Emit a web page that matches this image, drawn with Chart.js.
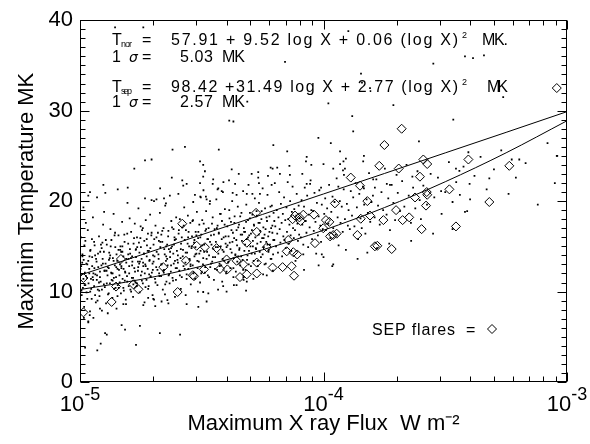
<!DOCTYPE html>
<html><head><meta charset="utf-8">
<script src="https://cdn.jsdelivr.net/npm/chart.js@4.4.1/dist/chart.umd.min.js"></script>
<style>html,body{margin:0;padding:0;background:#fff}</style>
</head><body>
<canvas id="c" width="590" height="444"></canvas>
<script>
// ---------- data (x values are log10 of flux in W m^-2, y values are temperature in MK) ----------
const xTickExponents = [-5, -4, -3];
const yTickValues = [0, 10, 20, 30, 40];
const fitLogFlux = [-5, -4.75, -4.5, -4.25, -4, -3.75, -3.5, -3.25, -3];
const fitNormal = [11.81, 14.04, 16.29, 18.53, 20.79, 23.05, 25.33, 27.60, 29.89];
const fitSep = [10.22, 11.34, 12.81, 14.62, 16.78, 19.28, 22.14, 25.34, 28.88];

const sepFlares = [[-3.042,32.5],[-3.679,28.0],[-3.750,26.2],[-3.590,24.6],[-3.574,24.1],[-3.771,23.9],[-3.691,23.6],[-3.405,24.6],[-3.237,23.9],[-3.888,22.6],[-3.850,21.7],[-3.604,22.7],[-3.483,21.3],[-3.576,21.0],[-3.574,20.7],[-3.624,20.4],[-3.820,20.0],[-3.953,19.75],[-3.319,19.9],[-3.579,19.5],[-4.083,18.5],[-4.099,18.2],[-4.039,18.5],[-3.990,17.9],[-3.847,18.05],[-3.809,18.4],[-3.754,17.9],[-3.702,19.0],[-3.675,17.9],[-3.648,18.2],[-4.117,18.4],[-4.001,17.0],[-3.976,17.7],[-3.960,16.25],[-3.946,16.4],[-4.035,15.35],[-3.861,16.25],[-3.597,16.9],[-3.456,17.2],[-3.789,15.0],[-3.779,15.06],[-3.720,14.7],[-4.124,14.35],[-4.108,14.1],[-4.131,12.8],[-4.121,11.75],[-4.315,15.4],[-4.145,15.7],[-4.233,14.9],[-4.151,14.45],[-4.329,13.0],[-4.274,13.2],[-4.274,12.0],[-4.209,12.65],[-4.168,12.7],[-4.315,11.9],[-4.343,11.6],[-3.973,16.1],[-4.277,18.7],[-4.127,18.0],[-4.094,17.8],[-4.274,16.6],[-4.521,15.06],[-4.487,14.9],[-4.439,14.8],[-4.832,13.6],[-4.565,13.4],[-4.658,12.7],[-4.491,12.45],[-4.425,12.5],[-4.395,12.45],[-4.398,13.55],[-4.357,13.4],[-4.537,11.8],[-4.532,11.7],[-4.986,11.5],[-4.852,10.55],[-4.781,10.8],[-4.760,10.25],[-4.599,9.95],[-4.870,8.85],[-4.986,7.7],[-4.580,17.5]];

const flareCoreLow = [
[-4.998,11.2],[-4.995,12.8],[-4.993,9.6],[-4.990,14.1],[-4.988,10.4],[-4.985,13.5],[-4.983,8.3],[-4.980,12.1],[-4.978,15.6],[-4.975,11.7],[-4.973,9.9],[-4.970,13.0],[-4.968,16.8],[-4.965,10.9],[-4.962,12.5],[-4.960,7.4],[-4.957,14.6],[-4.955,11.4],[-4.952,9.2],[-4.950,13.8],[-4.947,18.2],[-4.945,12.0],[-4.942,10.6],[-4.940,15.1],[-4.937,11.9],[-4.935,8.8],[-4.932,13.3],[-4.930,20.4],[-4.927,10.2],[-4.925,12.7],[-4.922,16.1],[-4.920,9.5],[-4.917,14.4],[-4.915,11.1],[-4.912,12.9],[-4.910,7.9],[-4.907,13.6],[-4.905,17.4],[-4.902,10.8],[-4.900,12.3],
[-4.996,16.0],[-4.986,19.3],[-4.976,17.6],[-4.966,6.6],[-4.958,10.0],[-4.948,11.6],[-4.938,14.0],[-4.928,9.0],[-4.918,12.2],[-4.908,15.4],[-4.991,13.2],[-4.981,10.7],[-4.971,11.5],[-4.961,13.9],[-4.951,15.8],[-4.941,12.6],[-4.931,11.3],[-4.921,10.1],[-4.911,14.8],[-4.901,18.8],
[-4.898,10.5],[-4.895,13.1],[-4.893,8.7],[-4.890,15.2],[-4.887,11.8],[-4.885,9.7],[-4.882,12.6],[-4.880,14.3],[-4.877,10.9],[-4.875,16.9],[-4.872,12.1],[-4.870,11.3],[-4.867,9.3],[-4.865,13.7],[-4.862,18.6],[-4.860,10.3],[-4.857,12.9],[-4.855,14.9],[-4.852,11.6],[-4.850,8.1],[-4.847,13.4],[-4.845,10.7],[-4.842,16.2],[-4.840,12.4],[-4.837,11.0],[-4.835,14.6],[-4.832,9.8],[-4.830,12.8],[-4.827,17.7],[-4.825,11.4],[-4.822,13.9],[-4.820,10.1],[-4.817,15.5],[-4.815,12.2],[-4.812,9.1],[-4.810,13.2],[-4.807,11.7],[-4.805,19.8],[-4.802,14.1],[-4.800,10.6],
[-4.896,20.9],[-4.886,7.6],[-4.876,14.0],[-4.866,12.0],[-4.856,16.5],[-4.846,9.5],[-4.836,13.0],[-4.826,15.0],[-4.816,11.2],[-4.806,16.4],[-4.891,12.3],[-4.881,13.5],[-4.871,15.7],[-4.861,11.5],[-4.851,12.7],[-4.841,10.4],[-4.831,14.4],[-4.821,12.5],[-4.811,8.6],[-4.801,13.6],
[-4.798,12.0],[-4.795,14.7],[-4.793,10.2],[-4.790,16.6],[-4.787,11.5],[-4.785,13.3],[-4.782,9.4],[-4.780,15.3],[-4.777,12.6],[-4.775,17.5],[-4.772,11.0],[-4.770,13.8],[-4.767,10.6],[-4.765,14.9],[-4.762,12.3],[-4.760,19.2],[-4.757,13.1],[-4.755,9.9],[-4.752,15.9],[-4.750,11.8],[-4.747,13.6],[-4.745,16.8],[-4.742,10.9],[-4.740,12.8],[-4.737,14.2],[-4.735,8.8],[-4.732,13.0],[-4.730,17.9],[-4.727,11.3],[-4.725,15.1],[-4.722,12.5],[-4.720,10.3],[-4.717,14.5],[-4.715,13.4],[-4.712,18.5],[-4.710,11.6],[-4.707,16.2],[-4.705,12.1],[-4.702,9.6],[-4.700,14.0],
[-4.796,18.1],[-4.786,12.9],[-4.776,11.2],[-4.766,16.0],[-4.756,14.3],[-4.746,12.2],[-4.736,15.6],[-4.726,13.9],[-4.716,11.9],[-4.706,20.1],[-4.791,13.7],[-4.781,10.8],[-4.771,14.6],[-4.761,12.7],[-4.751,17.2],[-4.741,13.2],[-4.731,10.5],[-4.721,16.4],[-4.711,14.8],[-4.701,12.4]];

const flareCoreMid = [
[-4.698,13.3],[-4.695,15.8],[-4.692,11.4],[-4.690,17.3],[-4.687,12.7],[-4.685,14.4],[-4.682,10.7],[-4.680,16.5],[-4.677,13.6],[-4.675,12.0],[-4.672,18.7],[-4.670,14.9],[-4.667,11.7],[-4.665,13.0],[-4.662,15.5],[-4.660,10.2],[-4.657,17.0],[-4.655,12.4],[-4.652,14.1],[-4.650,19.5],[-4.647,13.4],[-4.645,11.1],[-4.642,15.2],[-4.640,12.9],[-4.637,16.7],[-4.635,14.7],[-4.632,10.9],[-4.630,13.8],[-4.627,12.2],[-4.625,17.8],[-4.622,15.0],[-4.620,11.5],[-4.617,14.2],[-4.615,13.1],[-4.612,16.0],[-4.610,9.4],[-4.607,12.6],[-4.605,18.2],[-4.602,14.5],[-4.600,13.5],
[-4.696,9.1],[-4.686,20.2],[-4.676,15.6],[-4.666,16.3],[-4.656,12.1],[-4.646,13.9],[-4.636,11.8],[-4.626,14.8],[-4.616,16.9],[-4.606,11.3],[-4.691,8.4],[-4.671,21.4],[-4.651,9.7],[-4.631,20.6],[-4.611,15.7],
[-4.598,14.0],[-4.595,16.4],[-4.592,12.3],[-4.590,18.0],[-4.587,13.7],[-4.585,15.3],[-4.582,11.6],[-4.580,17.1],[-4.577,14.6],[-4.575,12.8],[-4.572,19.3],[-4.570,15.7],[-4.567,13.2],[-4.565,16.8],[-4.562,11.9],[-4.560,14.3],[-4.557,18.4],[-4.555,12.5],[-4.552,15.0],[-4.550,13.5],[-4.547,17.6],[-4.545,10.8],[-4.542,14.8],[-4.540,16.1],[-4.537,12.9],[-4.535,19.9],[-4.532,15.4],[-4.530,13.9],[-4.527,11.4],[-4.525,16.6],[-4.522,14.2],[-4.520,18.8],[-4.517,12.6],[-4.515,15.9],[-4.512,13.3],[-4.510,17.4],[-4.507,11.0],[-4.505,14.5],[-4.502,16.3],[-4.500,12.2],
[-4.596,20.8],[-4.586,10.3],[-4.576,21.7],[-4.566,9.6],[-4.556,16.0],[-4.546,13.0],[-4.536,17.9],[-4.526,14.9],[-4.516,10.0],[-4.506,20.5],
[-4.498,15.1],[-4.495,13.0],[-4.492,17.5],[-4.490,14.4],[-4.487,12.1],[-4.485,16.7],[-4.482,18.9],[-4.480,13.6],[-4.477,15.8],[-4.475,11.8],[-4.472,17.0],[-4.470,14.0],[-4.467,19.7],[-4.465,12.7],[-4.462,16.2],[-4.460,15.2],[-4.457,13.3],[-4.455,18.2],[-4.452,14.7],[-4.450,11.3],[-4.447,16.9],[-4.445,13.8],[-4.442,15.5],[-4.440,20.2],[-4.437,12.4],[-4.435,17.3],[-4.432,14.2],[-4.430,16.4],[-4.427,13.1],[-4.425,18.6],[-4.422,15.0],[-4.420,12.9],[-4.417,17.8],[-4.415,14.6],[-4.412,10.6],[-4.410,16.0],[-4.407,13.4],[-4.405,19.1],[-4.402,15.3],[-4.400,12.0],
[-4.493,21.2],[-4.473,9.8],[-4.453,22.4],[-4.433,10.2],[-4.413,21.0],
[-4.398,14.9],[-4.395,17.2],[-4.392,13.2],[-4.390,16.1],[-4.387,19.0],[-4.385,15.4],[-4.382,12.6],[-4.380,17.7],[-4.377,14.3],[-4.375,20.0],[-4.372,16.5],[-4.370,13.7],[-4.367,15.9],[-4.365,18.3],[-4.362,14.1],[-4.360,12.2],[-4.357,16.8],[-4.355,15.1],[-4.352,19.4],[-4.350,13.9],[-4.347,17.4],[-4.345,14.8],[-4.342,12.9],[-4.340,16.3],[-4.337,18.7],[-4.335,15.6],[-4.332,13.5],[-4.330,21.1],[-4.327,17.0],[-4.325,14.5],[-4.322,16.6],[-4.320,12.4],[-4.317,19.6],[-4.315,15.8],[-4.312,14.0],[-4.310,17.9],[-4.307,13.0],[-4.305,16.2],[-4.302,18.1],[-4.300,15.0],
[-4.388,22.3],[-4.368,10.7],[-4.348,23.0],[-4.328,11.3],[-4.308,21.8]];

const flareCoreDense = [
[-4.998,12.5],[-4.994,10.1],[-4.990,13.9],[-4.986,11.4],[-4.982,15.1],[-4.978,10.7],[-4.974,13.1],[-4.970,9.2],[-4.966,13.4],[-4.962,12.0],[-4.958,14.5],[-4.954,10.3],[-4.950,12.8],[-4.946,11.3],[-4.942,15.5],[-4.938,9.6],[-4.934,13.6],[-4.930,11.8],[-4.926,14.2],[-4.922,11.0],
[-4.918,11.6],[-4.914,15.2],[-4.910,10.2],[-4.906,13.1],[-4.902,14.4],[-4.898,12.3],[-4.894,15.7],[-4.890,10.9],[-4.886,12.7],[-4.882,9.8],[-4.878,13.7],[-4.874,15.0],[-4.870,12.0],[-4.866,11.2],[-4.862,13.4],[-4.858,16.2],[-4.854,10.4],[-4.850,14.1],[-4.846,12.5],[-4.842,14.6],
[-4.838,11.8],[-4.834,15.0],[-4.830,12.6],[-4.826,14.4],[-4.822,10.4],[-4.818,16.3],[-4.814,12.1],[-4.810,13.6],[-4.806,11.1],[-4.802,15.3],[-4.798,12.8],[-4.794,14.2],[-4.790,10.0],[-4.786,13.9],[-4.782,11.5],[-4.778,15.9],[-4.774,12.2],[-4.770,14.7],[-4.766,10.9],[-4.762,13.3],
[-4.758,15.4],[-4.754,13.3],[-4.750,14.9],[-4.746,11.2],[-4.742,17.0],[-4.738,14.2],[-4.734,12.0],[-4.730,12.8],[-4.726,15.8],[-4.722,14.5],[-4.718,10.6],[-4.714,13.5],[-4.710,11.7],[-4.706,16.5],[-4.702,13.1],[-4.698,15.2],[-4.694,13.9],[-4.690,11.0],[-4.686,16.0],[-4.682,12.4],
[-4.678,14.1],[-4.674,11.7],[-4.670,15.5],[-4.666,13.0],[-4.662,16.7],[-4.658,12.3],[-4.654,14.7],[-4.650,10.8],[-4.646,15.0],[-4.642,13.6],[-4.638,16.1],[-4.634,11.9],[-4.630,14.4],[-4.626,12.9],[-4.622,17.1],[-4.618,11.2],[-4.614,15.2],[-4.610,13.4],[-4.606,15.8],[-4.602,12.6],
[-4.598,13.2],[-4.594,16.8],[-4.590,11.8],[-4.586,14.7],[-4.582,16.0],[-4.578,13.9],[-4.574,17.3],[-4.570,12.5],[-4.566,14.3],[-4.562,11.4],[-4.558,15.3],[-4.554,16.6],[-4.550,13.6],[-4.546,12.8],[-4.542,15.0],[-4.538,17.8],[-4.534,12.0],[-4.530,15.7],[-4.526,14.1],[-4.522,16.2],
[-4.518,13.4],[-4.514,16.6],[-4.510,14.2],[-4.506,16.0],[-4.502,12.0],[-4.498,17.9],[-4.494,13.7],[-4.490,15.2],[-4.486,12.7],[-4.482,16.9],[-4.478,14.4],[-4.474,15.8],[-4.470,11.6],[-4.466,15.5],[-4.462,13.1],[-4.458,17.5],[-4.454,13.8],[-4.450,16.3],[-4.446,12.5],[-4.442,14.9],
[-4.438,17.0],[-4.434,14.9],[-4.430,16.5],[-4.426,12.8],[-4.422,18.6],[-4.418,15.8],[-4.414,13.6],[-4.410,14.4],[-4.406,17.4],[-4.402,16.1],[-4.398,12.2],[-4.394,15.1],[-4.390,13.3],[-4.386,18.1],[-4.382,14.7],[-4.378,16.8],[-4.374,15.5],[-4.370,12.6],[-4.366,17.6],[-4.362,14.0],
[-4.358,15.7],[-4.354,13.3],[-4.350,17.1],[-4.346,14.6],[-4.342,18.3],[-4.338,13.9],[-4.334,16.3],[-4.330,12.4],[-4.326,16.6],[-4.322,15.2],[-4.318,17.7],[-4.314,13.5],[-4.310,16.0],[-4.306,14.5],[-4.302,18.7],[-4.298,12.8],[-4.294,16.8],[-4.290,15.0],[-4.286,17.4],[-4.282,14.2],
[-4.278,14.8],[-4.274,18.4],[-4.270,13.4],[-4.266,16.3],[-4.262,17.6],[-4.258,15.5],[-4.254,18.9],[-4.250,14.1],[-4.246,15.9],[-4.242,13.0],[-4.238,16.9],[-4.234,18.2],[-4.230,15.2],[-4.226,14.4],[-4.222,16.6],[-4.218,19.4],[-4.214,13.6],[-4.210,17.3],[-4.206,15.7],[-4.202,17.8]];

const flareCoreHigh = [
[-4.298,16.4],[-4.295,14.2],[-4.292,18.5],[-4.290,15.6],[-4.287,13.4],[-4.285,17.3],[-4.282,20.3],[-4.280,16.0],[-4.277,14.7],[-4.275,18.9],[-4.272,15.3],[-4.270,12.8],[-4.267,17.6],[-4.265,19.8],[-4.262,14.4],[-4.260,16.7],[-4.257,13.8],[-4.255,18.0],[-4.252,15.9],[-4.250,21.4],[-4.247,17.1],[-4.245,14.9],[-4.242,16.3],[-4.240,19.2],[-4.237,13.1],[-4.235,15.5],[-4.232,17.8],[-4.230,20.7],[-4.227,16.1],[-4.225,14.6],[-4.222,18.3],[-4.220,15.2],[-4.217,13.6],[-4.215,17.0],[-4.212,19.5],[-4.210,16.5],[-4.207,14.1],[-4.205,18.7],[-4.202,15.7],[-4.200,22.0],
[-4.288,11.4],[-4.268,23.2],[-4.248,11.9],[-4.228,22.8],[-4.208,12.3],
[-4.198,17.2],[-4.195,15.0],[-4.192,19.0],[-4.190,16.4],[-4.187,14.3],[-4.185,18.2],[-4.182,21.0],[-4.180,16.9],[-4.177,15.4],[-4.175,19.7],[-4.172,17.6],[-4.170,13.9],[-4.167,18.6],[-4.165,16.1],[-4.162,20.4],[-4.160,15.7],[-4.157,17.9],[-4.155,14.8],[-4.152,19.3],[-4.150,16.6],[-4.147,22.1],[-4.145,18.0],[-4.142,15.3],[-4.140,17.4],[-4.137,20.0],[-4.135,16.2],[-4.132,14.5],[-4.130,18.8],[-4.127,21.6],[-4.125,17.0],[-4.122,15.9],[-4.120,19.1],[-4.117,16.8],[-4.115,13.4],[-4.112,18.4],[-4.110,20.8],[-4.107,17.5],[-4.105,15.6],[-4.102,19.5],[-4.100,16.3],
[-4.097,18.1],[-4.093,16.0],[-4.090,20.1],[-4.087,17.4],[-4.083,15.2],[-4.080,19.4],[-4.077,21.5],[-4.073,17.8],[-4.070,16.5],[-4.067,20.6],[-4.063,14.9],[-4.060,18.5],[-4.057,17.1],[-4.053,22.3],[-4.050,19.0],[-4.047,15.8],[-4.043,18.9],[-4.040,16.7],[-4.037,20.9],[-4.033,17.7],[-4.030,14.2],[-4.027,19.8],[-4.023,16.2],[-4.020,18.3],[-4.017,21.2],[-4.013,17.3],[-4.010,15.5],[-4.007,19.6],[-4.003,16.9],[-4.000,13.8],[-4.080,12.4],[-4.050,24.0],[-4.020,12.9],
[-3.997,18.6],[-3.993,20.3],[-3.990,16.8],[-3.985,19.2],[-3.980,17.5],[-3.977,21.8],[-3.972,15.9],[-3.968,18.8],[-3.963,20.5],[-3.960,17.0],[-3.955,19.9],[-3.950,16.3],[-3.946,22.5],[-3.942,18.2],[-3.938,15.1],[-3.933,20.0],[-3.930,17.6],[-3.925,19.4],[-3.921,16.6],[-3.917,21.3],[-3.912,18.0],[-3.908,14.6],[-3.904,19.7],[-3.900,17.3],[-3.960,13.0],[-3.920,23.4],
[-3.897,19.0],[-3.892,16.9],[-3.888,21.1],[-3.883,18.4],[-3.878,20.4],[-3.873,17.2],[-3.868,22.0],[-3.863,19.3],[-3.858,15.8],[-3.853,20.8],[-3.848,18.1],[-3.843,17.0],[-3.838,21.6],[-3.833,19.6],[-3.828,16.4],[-3.823,20.2],[-3.818,18.7],[-3.813,23.1],[-3.808,17.7],[-3.803,19.9],[-3.860,13.6],[-3.820,14.3],
[-3.797,20.6],[-3.790,18.2],[-3.783,22.4],[-3.776,19.5],[-3.769,17.4],[-3.762,21.0],[-3.755,19.0],[-3.748,23.6],[-3.741,18.5],[-3.734,20.3],[-3.727,16.8],[-3.720,21.8],[-3.713,19.8],[-3.706,17.9],[-3.700,22.9],[-3.780,14.8],[-3.730,15.3],
[-3.695,20.9],[-3.686,18.9],[-3.677,22.2],[-3.668,19.4],[-3.659,24.0],[-3.650,20.6],[-3.641,17.6],[-3.632,21.5],[-3.623,19.2],[-3.614,23.3],[-3.605,20.1],[-3.600,18.0],[-3.640,15.6],
[-3.590,21.7],[-3.575,19.6],[-3.560,23.0],[-3.545,20.4],[-3.530,22.6],[-3.515,18.6],[-3.500,21.0],[-3.485,24.3],[-3.470,19.9],[-3.455,22.1],[-3.440,20.7],[-3.425,23.8],[-3.410,18.9],[-3.400,21.9],[-3.550,16.4],[-3.470,16.9],
[-3.380,22.8],[-3.355,24.9],[-3.330,21.3],[-3.300,23.5],[-3.270,25.6],[-3.240,20.8],[-3.210,22.6],[-3.170,24.2],[-3.120,19.6],[-3.080,26.4],[-3.040,25.0],[-3.050,22.0]];

const flareOutliers = [
[-4.856,39.2],[-4.740,39.2],[-4.158,35.4],[-3.898,38.8],[-3.419,36.0],[-3.386,35.8],[-3.341,36.1],[-3.549,35.2],[-3.846,34.1],[-3.842,33.1],[-3.809,32.5],[-4.313,31.0],[-3.980,30.8],[-3.713,30.6],[-3.262,31.5],[-4.387,28.9],[-4.370,28.8],[-3.882,29.4],[-3.467,29.0],[-3.878,27.7],[-4.021,27.0],[-3.970,26.4],[-3.608,26.6],[-4.620,25.7],[-4.569,26.0],[-4.430,25.7],[-4.206,26.2],[-4.149,25.5],[-3.932,25.5],[-3.834,25.0],[-3.837,24.4],[-3.405,25.4],[-3.042,25.0],[-3.227,24.6],[-3.196,24.6],[-4.733,24.5],[-4.706,24.6],[-4.777,23.6],[-4.507,24.4],[-4.494,24.0],[-4.487,23.3],[-4.494,22.7],[-4.377,23.5],[-4.209,23.6],[-4.190,23.7],[-4.140,23.9],[-4.268,22.6],[-4.623,22.6],[-4.580,22.3],[-4.562,21.9],[-4.904,21.8],[-4.845,21.3],[-4.804,21.5],[-4.959,21.0],[-4.966,20.6],[-4.507,22.0],[-4.432,21.4],[-4.418,21.1],[-4.483,20.5],[-4.480,20.2],[-4.466,20.0],[-4.072,24.4],[-4.000,24.1],[-3.932,24.1],[-3.918,24.4],[-3.912,23.6],[-3.456,23.6],[-3.442,23.35],[-3.635,22.7],[-3.319,22.5],[-3.834,21.4],[-3.727,21.8],[-3.517,21.1],[-3.398,20.2],[-3.419,18.8],[-4.069,24.9],[-3.908,24.7],[-4.217,23.7],[-4.295,23.0],[-4.265,22.0],[-4.179,23.0],[-4.138,22.9],[-4.087,23.0],[-3.960,23.6],[-3.916,22.9],[-3.796,22.4],[-3.789,21.5],[-3.740,21.9],[-4.213,21.8],[-4.069,21.9],[-4.055,21.9],[-4.010,21.5],[-3.939,21.6],[-4.292,20.8],[-4.261,20.8],[-4.455,21.9],[-4.411,22.1],[-4.363,21.9],[-4.435,21.3],[-4.373,20.9],[-4.357,20.7],[-4.733,20.3],[-4.696,20.0],[-4.655,20.3],[-4.647,19.75],[-4.528,20.7],[-4.504,20.4],[-4.315,20.8],
[-4.699,9.2],[-4.665,8.9],[-4.641,9.05],[-4.637,8.7],[-4.562,8.6],[-4.514,8.3],[-4.480,8.9],[-4.416,11.1],[-4.398,10.0],[-4.357,10.7],[-4.318,10.1],[-4.822,8.6],[-4.740,8.5],[-4.829,6.3],[-4.815,5.8],[-4.754,6.2],[-4.672,5.4],[-4.589,5.25],[-4.897,5.4],[-4.890,5.25],[-4.979,3.8],[-4.929,3.5],[-4.915,4.25],[-4.770,4.1],[-4.329,11.6],[-4.315,11.1],[-4.233,11.8],[-4.083,14.1],[-4.007,14.1],[-3.964,12.8],[-4.720,9.3],[-4.494,9.95],[-4.370,11.6],[-4.959,7.8],[-4.918,8.1],[-4.945,7.1],[-4.966,6.7],[-4.984,7.1]];

const fitLabels = [
  {sub: 'nor', coeffs: '57.91 + 9.52 log X + 0.06 (log X)', unit: 'MK.', sigma: '5.03'},
  {sub: 'sep', coeffs: '98.42 +31.49 log X + 2.77 (log X)', unit: 'MK', sigma: '2.57'}
];
const legendText = 'SEP flares';
const xTitle = 'Maximum X ray Flux  W m⁻²';
const yTitle = 'Maximim Temperature MK';

// ---------- build ----------
const toXY = p => ({x: Math.pow(10, p[0]), y: p[1]});
const dotData = flareCoreLow.concat(flareCoreMid, flareCoreDense, flareCoreHigh, flareOutliers).map(toXY);
const sepData = sepFlares.map(toXY);
const norLine = fitLogFlux.map((lx, i) => ({x: Math.pow(10, lx), y: fitNormal[i]}));
const sepLine = fitLogFlux.map((lx, i) => ({x: Math.pow(10, lx), y: fitSep[i]}));

const FONT = '"Liberation Sans", Arial, Helvetica, sans-serif';

function spread(ctx, text, x0, x1, y) {
  const chars = Array.from(text);
  const ws = chars.map(c => ctx.measureText(c).width);
  const natural = ws.reduce((a, b) => a + b, 0);
  const extra = chars.length > 1 ? (x1 - x0 - natural) / (chars.length - 1) : 0;
  let x = x0;
  chars.forEach((c, i) => { ctx.fillText(c, x, y); x += ws[i] + extra; });
}

const decor = {
  id: 'decor',
  afterDraw(chart) {
    const {ctx, chartArea: a, scales: {x, y}} = chart;
    ctx.save();
    ctx.strokeStyle = '#000';
    ctx.fillStyle = '#000';
    ctx.lineWidth = 1;
    const L = Math.round(a.left) + 0.5, R = Math.round(a.right) - 0.5;
    const T = Math.round(a.top) + 0.5, B = Math.round(a.bottom) - 0.5;
    ctx.strokeRect(L, T, R - L, B - T);
    ctx.beginPath();
    for (let e = xTickExponents[0]; e <= xTickExponents[xTickExponents.length - 1]; e++) {
      for (let m = 1; m <= 9; m++) {
        const v = m * Math.pow(10, e);
        if (v > x.max * 1.0001) break;
        const px = Math.round(x.getPixelForValue(v)) + 0.5;
        const len = m === 1 ? 9 : 5;
        ctx.moveTo(px, B); ctx.lineTo(px, B - len);
        ctx.moveTo(px, T); ctx.lineTo(px, T + len);
      }
    }
    for (let t = y.min; t <= y.max; t += 1) {
      const py = Math.round(y.getPixelForValue(t)) + 0.5;
      const len = (t % 10 === 0) ? 9 : 5;
      ctx.moveTo(L, py); ctx.lineTo(L + len, py);
      ctx.moveTo(R, py); ctx.lineTo(R - len, py);
    }
    ctx.stroke();

    ctx.textBaseline = 'alphabetic';
    ctx.textAlign = 'left';
    xTickExponents.forEach(e => {
      const px = x.getPixelForValue(Math.pow(10, e));
      ctx.font = '22px ' + FONT;
      const wBase = ctx.measureText('10').width;
      ctx.font = '18px ' + FONT;
      const expText = '-' + Math.abs(e);
      const wExp = ctx.measureText(expText).width;
      const x0 = px - (wBase + wExp) / 2;
      ctx.font = '22px ' + FONT;
      ctx.fillText('10', x0, 411);
      ctx.font = '18px ' + FONT;
      ctx.fillText(expText, x0 + wBase, 400);
    });

    const rows = [[45, 62], [92, 107]];
    fitLabels.forEach((lab, i) => {
      const [yb, ys] = rows[i];
      ctx.font = '16px ' + FONT;
      ctx.fillText('T', 112, yb);
      ctx.font = '9px ' + FONT;
      spread(ctx, lab.sub, 121, 132, yb + 2);
      ctx.font = '16px ' + FONT;
      ctx.fillText('=', 142, yb);
      spread(ctx, lab.coeffs, 171, 458, yb);
      ctx.font = '9px ' + FONT;
      ctx.fillText('2', 462, yb - 7);
      ctx.font = '16px ' + FONT;
      spread(ctx, lab.unit, lab.unit.length > 2 ? 482 : 487, 508, yb);
      ctx.fillText('1', 112, ys);
      ctx.font = 'italic 14px "DejaVu Sans", sans-serif';
      ctx.fillText('σ', 129, ys);
      ctx.font = '16px ' + FONT;
      ctx.fillText('=', 142, ys);
      spread(ctx, lab.sigma, 180, 213, ys);
      spread(ctx, 'MK', 222, 245, ys);
    });

    ctx.font = '16px ' + FONT;
    spread(ctx, legendText, 372, 455, 335);
    ctx.fillText('=', 466, 335);
    const cx = 492, cy = 329, r = 4.5;
    ctx.beginPath();
    ctx.moveTo(cx, cy - r); ctx.lineTo(cx + r, cy); ctx.lineTo(cx, cy + r); ctx.lineTo(cx - r, cy); ctx.closePath();
    ctx.stroke();
    ctx.restore();
  }
};

new Chart(document.getElementById('c'), {
  type: 'scatter',
  data: {
    datasets: [
      {label: 'Flares', data: dotData, pointStyle: 'rect', pointRadius: 1.25, pointHoverRadius: 1.25,
       backgroundColor: '#000', borderWidth: 0, order: 3},
      {label: 'SEP flares', data: sepData, pointStyle: 'rectRot', pointRadius: 4.5, pointHoverRadius: 4.5,
       borderColor: '#000', borderWidth: 1, backgroundColor: 'rgba(0,0,0,0)', order: 2},
      {label: 'T nor fit', data: norLine, showLine: true, pointRadius: 0, borderColor: '#000', borderWidth: 1,
       cubicInterpolationMode: 'monotone', fill: false, order: 1},
      {label: 'T sep fit', data: sepLine, showLine: true, pointRadius: 0, borderColor: '#000', borderWidth: 1,
       cubicInterpolationMode: 'monotone', fill: false, order: 1}
    ]
  },
  options: {
    responsive: false,
    animation: false,
    devicePixelRatio: 1,
    layout: {padding: {left: 0, right: 23, top: 12, bottom: 0}},
    plugins: {legend: {display: false}, tooltip: {enabled: false}},
    scales: {
      x: {
        type: 'logarithmic', min: 1e-5, max: 1e-3,
        afterFit(s) { s.height = 62; },
        grid: {display: false, drawTicks: false},
        border: {display: false},
        ticks: {display: false},
        title: {display: true, text: xTitle, color: '#000', font: {family: FONT, size: 22}, padding: {top: 0, bottom: 7}}
      },
      y: {
        min: 0, max: 40,
        afterFit(s) { s.width = 80; },
        afterBuildTicks(s) { s.ticks = yTickValues.map(v => ({value: v})); },
        grid: {display: false, drawTicks: false},
        border: {display: false},
        ticks: {color: '#000', font: {family: FONT, size: 22}, padding: 7},
        title: {display: true, text: yTitle, color: '#000', font: {family: FONT, size: 22}, padding: {top: 14, bottom: 0}}
      }
    }
  },
  plugins: [decor]
});
</script>
</body></html>
